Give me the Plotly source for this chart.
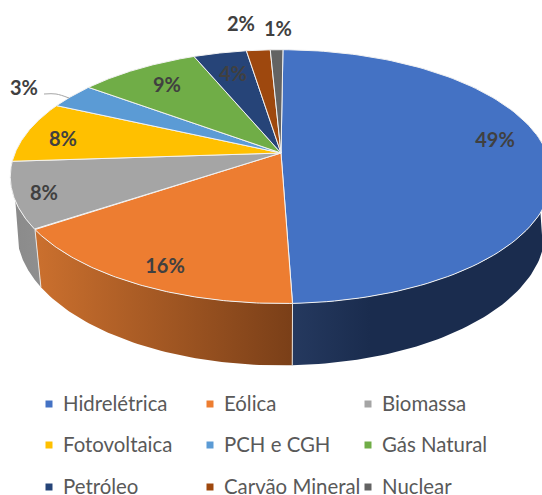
import numpy as np
import plotly.graph_objects as go

labels = ["Hidrelétrica", "Eólica", "Biomassa", "Fotovoltaica", "PCH e CGH",
          "Gás Natural", "Petróleo", "Carvão Mineral", "Nuclear"]
values = [49.3, 16.1, 8.4, 7.9, 3.3, 8.6, 3.8, 1.7, 0.9]
colors = ["#4472C4", "#ED7D31", "#A5A5A5", "#FFC000", "#5B9BD5",
          "#70AD47", "#264478", "#9E480E", "#636363"]

# side wall shading, left to right (only the front slices show a wall)
wall_colors = {
    0: [[0, "#25395F"], [0.3, "#1A2C4E"], [1, "#1A2C4E"]],
    1: [[0, "#CB702E"], [1, "#7A3F18"]],
    2: [[0, "#8A8A8A"], [1, "#8F8F8F"]],
}

label_x = [495, 165, 44, 63, 24, 167, 233, 241, 278]
label_y = [142, 268, 195, 141, 90, 87, 76, 26, 31]

legend_x = [49, 210, 368]
legend_y = [404, 445, 487]
legend_gap = 14
legend_text_dy = 1.5

# projection of the disc, in pixels
cx, cy = 281, 153
rx, ry, persp = 266, 122.5, 0.186
depth, shrink = 53.3, 0.976


def top_rim(theta):
    t = np.radians(theta)
    u, v = np.sin(t), -np.cos(t)
    s = 1 / (1 - persp * v)
    return cx + rx * u * s, cy + ry * v * s


def low_rim(theta):
    t = np.radians(theta)
    u, v = np.sin(t), -np.cos(t)
    s = 1 / (1 - persp * v)
    return cx + shrink * rx * u * s, cy + shrink * ry * v * s + depth * s


edges = np.concatenate([[0], np.cumsum(values)]) / sum(values) * 360 + 0.5

fig = go.Figure()

# walls first, the top surface goes over them
for i, scale in wall_colors.items():
    a, b = edges[i], edges[i + 1]
    ta = np.linspace(max(a, 80), min(b, 280), 60)
    tb = np.linspace(max(a, 108), min(b, 252), 60)
    xt, yt = top_rim(ta)
    xb, yb = low_rim(tb)
    fig.add_trace(go.Scatter(
        x=np.concatenate([xt, xb[::-1], xt[:1]]),
        y=np.concatenate([yt, yb[::-1], yt[:1]]),
        mode="lines", fill="toself",
        line={"width": 0},
        fillgradient={"type": "horizontal", "colorscale": scale},
        hoverinfo="skip",
    ))

# seams between the walls
seam_x, seam_y = [], []
for th in [edges[1], edges[2]]:
    x0, y0 = top_rim(th)
    x1, y1 = low_rim(th)
    seam_x += [x0, x1, None]
    seam_y += [y0, y1, None]
fig.add_trace(go.Scatter(x=seam_x, y=seam_y, mode="lines",
                         line={"color": "#E8E4E0", "width": 1}, hoverinfo="skip"))

for i in range(len(values)):
    th = np.linspace(edges[i], edges[i + 1], 120)
    xs, ys = top_rim(th)
    fig.add_trace(go.Scatter(
        x=np.concatenate([[cx], xs, [cx]]),
        y=np.concatenate([[cy], ys, [cy]]),
        mode="lines", fill="toself", fillcolor=colors[i],
        line={"color": "#F2F2F2", "width": 1},
        name=labels[i], hoverinfo="name",
    ))

# leader line of the 3% label
fig.add_trace(go.Scatter(x=[44, 56, 69], y=[94, 94, 98], mode="lines",
                         line={"color": "#A6A6A6", "width": 1, "shape": "spline"},
                         hoverinfo="skip"))

fig.add_trace(go.Scatter(
    x=label_x, y=label_y, mode="text",
    text=[f"{round(v)}%" for v in values],
    textfont={"family": "Lato", "size": 20, "color": "#404040", "weight": "bold"},
    hoverinfo="skip",
))

# legend, three columns
lx = [legend_x[i % 3] for i in range(len(labels))]
ly = [legend_y[i // 3] for i in range(len(labels))]
fig.add_trace(go.Scatter(
    x=lx, y=ly, mode="markers",
    marker={"symbol": "square", "size": 7, "color": colors},
    hoverinfo="skip",
))
fig.add_trace(go.Scatter(
    x=[v + legend_gap for v in lx], y=[v + legend_text_dy for v in ly], mode="text",
    text=labels, textposition="middle right",
    textfont={"family": "Lato", "size": 20.4, "color": "#595959"},
    hoverinfo="skip",
))

fig.update_layout(
    width=542, height=495,
    margin={"l": 0, "r": 0, "t": 0, "b": 0},
    paper_bgcolor="white", plot_bgcolor="white",
    showlegend=False,
    xaxis={"range": [0, 542], "visible": False, "fixedrange": True},
    yaxis={"range": [495, 0], "visible": False, "fixedrange": True},
)

fig.write_html("out.html", config={"displayModeBar": False},
               post_script="document.body.style.margin='0';")
